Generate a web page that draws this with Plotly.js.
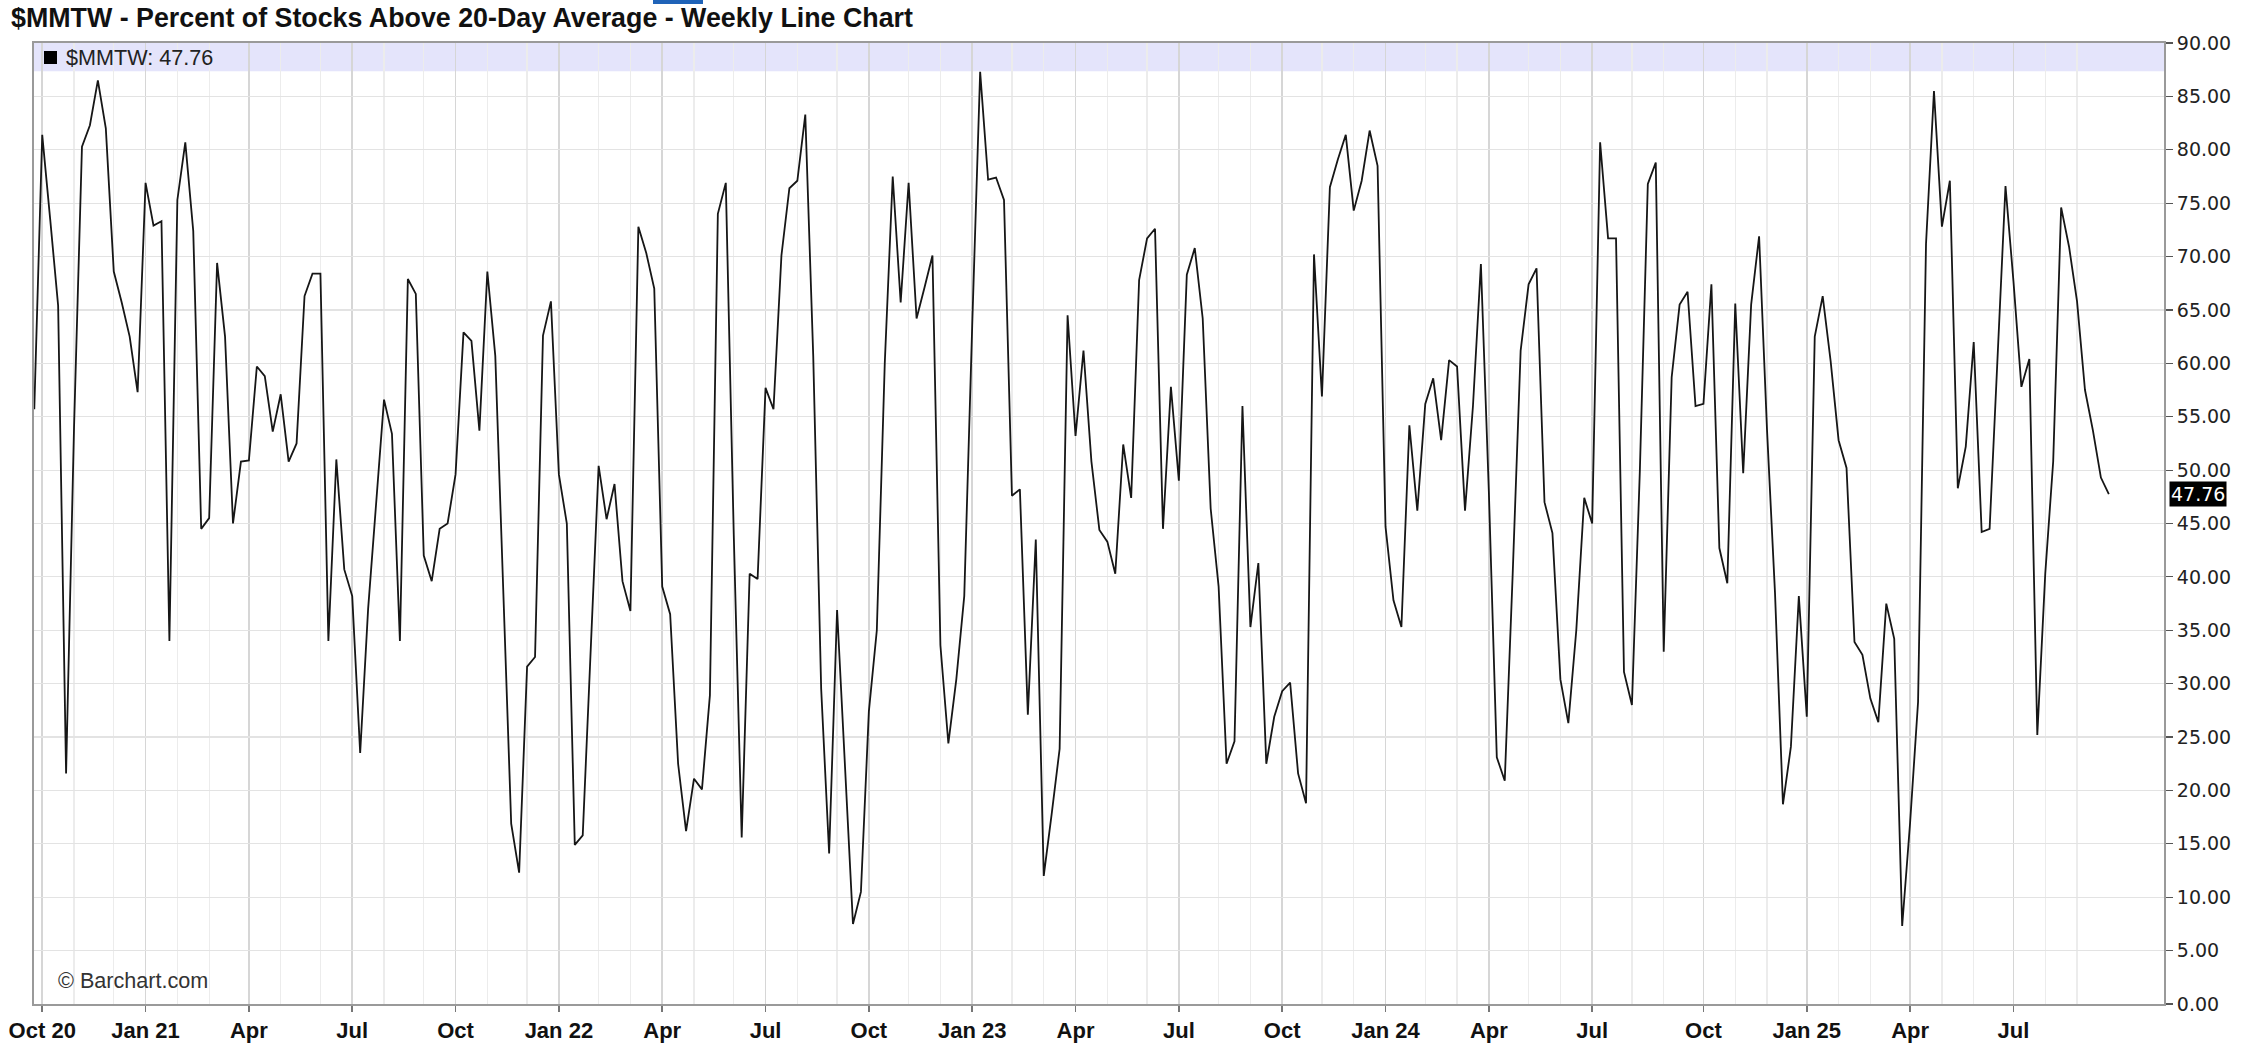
<!DOCTYPE html>
<html>
<head>
<meta charset="utf-8">
<script src="https://cdn.plot.ly/plotly-3.0.1.min.js"></script>
<style>
  html, body { margin: 0; padding: 0; background: #ffffff; }
  #chart { width: 2249px; height: 1045px; }
</style>
</head>
<body>
<div id="chart"></div>
<script>
// ---- Data (weekly bars, Monday-dated) ----
const seriesName = '$MMTW';
const firstWeek = '2020-09-28';
const pctAbove20 = [
  55.7, 81.4, 73.5, 65.4, 21.6, 54.0, 80.3, 82.3, 86.5, 82.0,
  68.6, 65.7, 62.5, 57.3, 76.9, 72.9, 73.3, 34.0, 75.3, 80.7,
  72.4, 44.5, 45.5, 69.4, 62.5, 45.0, 50.8, 50.9, 59.7, 58.8,
  53.6, 57.1, 50.8, 52.5, 66.3, 68.4, 68.4, 34.0, 51.0, 40.7,
  38.2, 23.5, 37.0, 47.0, 56.6, 53.4, 34.0, 67.9, 66.5, 42.0,
  39.6, 44.5, 45.0, 49.6, 62.9, 62.1, 53.7, 68.6, 60.7, 38.8,
  16.9, 12.3, 31.6, 32.5, 62.6, 65.8, 49.6, 45.0, 14.9, 15.8,
  33.0, 50.4, 45.4, 48.7, 39.6, 36.8, 72.8, 70.3, 67.0, 39.1,
  36.5, 22.5, 16.2, 21.1, 20.1, 28.9, 74.0, 76.9, 44.0, 15.6,
  40.3, 39.8, 57.7, 55.7, 70.1, 76.4, 77.1, 83.3, 60.7, 29.5,
  14.1, 36.9, 22.2, 7.5, 10.5, 27.4, 35.0, 60.0, 77.5, 65.7,
  76.9, 64.2, 67.1, 70.1, 33.6, 24.4, 30.4, 38.2, 63.5, 87.3,
  77.2, 77.4, 75.3, 47.6, 48.2, 27.1, 43.5, 12.0, 17.8, 23.9,
  64.5, 53.2, 61.2, 50.8, 44.4, 43.3, 40.3, 52.4, 47.4, 67.8,
  71.7, 72.6, 44.5, 57.8, 49.0, 68.3, 70.8, 64.2, 46.4, 39.1,
  22.5, 24.6, 56.0, 35.3, 41.3, 22.5, 26.9, 29.3, 30.1, 21.6,
  18.8, 70.2, 56.9, 76.5, 79.1, 81.4, 74.3, 77.1, 81.8, 78.5,
  44.7, 37.8, 35.3, 54.2, 46.2, 56.2, 58.6, 52.8, 60.3, 59.7,
  46.2, 56.0, 69.3, 48.0, 23.1, 20.9, 40.3, 61.2, 67.4, 68.9,
  47.0, 44.1, 30.4, 26.3, 35.0, 47.4, 45.0, 80.7, 71.7, 71.7,
  31.1, 28.0, 50.0, 76.8, 78.8, 33.0, 58.7, 65.5, 66.7, 56.0,
  56.2, 67.4, 42.7, 39.4, 65.6, 49.7, 65.5, 71.9, 53.7, 38.5,
  18.7, 24.1, 38.2, 26.9, 62.5, 66.3, 60.2, 52.8, 50.2, 33.9,
  32.7, 28.6, 26.4, 37.5, 34.2, 7.3, 17.0, 28.3, 71.2, 85.5,
  72.8, 77.1, 48.3, 52.2, 62.0, 44.2, 44.5, 60.1, 76.6, 67.7,
  57.8, 60.4, 25.2, 40.3, 50.8, 74.6, 70.9, 65.8, 57.5, 53.7,
  49.3, 47.76
];
const lastValue = 47.76;

const tickDates = [
  '2020-10-05', '2021-01-04', '2021-04-05', '2021-07-05', '2021-10-04',
  '2022-01-03', '2022-04-04', '2022-07-04', '2022-10-03', '2023-01-02',
  '2023-04-03', '2023-07-03', '2023-10-02', '2024-01-01', '2024-04-01',
  '2024-07-01', '2024-10-07', '2025-01-06', '2025-04-07', '2025-07-07'
];
const tickLabels = [
  'Oct 20', 'Jan 21', 'Apr', 'Jul', 'Oct',
  'Jan 22', 'Apr', 'Jul', 'Oct', 'Jan 23',
  'Apr', 'Jul', 'Oct', 'Jan 24', 'Apr',
  'Jul', 'Oct', 'Jan 25', 'Apr', 'Jul'
];
const yTicks = [0, 5, 10, 15, 20, 25, 30, 35, 40, 45, 50, 55, 60, 65, 70, 75, 80, 85, 90];

// ---- Weekly x dates ----
function addDays(s, n) {
  const d = new Date(s + 'T00:00:00Z');
  d.setUTCDate(d.getUTCDate() + n);
  return d.toISOString().slice(0, 10);
}
const weeks = pctAbove20.map((_, i) => addDays(firstWeek, 7 * i));
// first weekly bar of each month -> light month gridlines
const monthGrid = [];
weeks.forEach((d, i) => { if (i > 0 && d.slice(0, 7) !== weeks[i - 1].slice(0, 7)) monthGrid.push(d); });

// ---- Geometry ----
const W = 2249, H = 1045;
const M = { l: 34, r: 85, t: 43, b: 41 };
const PW = W - M.l - M.r, PH = H - M.t - M.b;
const px = x => (x - M.l) / PW;
const py = y => (H - M.b - y) / PH;

const FONT = 'Liberation Sans, Arial, sans-serif';

const trace = {
  type: 'scatter',
  mode: 'lines',
  x: weeks,
  y: pctAbove20,
  line: { color: '#161616', width: 1.8 },
  hoverinfo: 'x+y',
  showlegend: false
};

const layout = {
  width: W,
  height: H,
  margin: M,
  paper_bgcolor: '#ffffff',
  plot_bgcolor: '#ffffff',
  showlegend: false,
  title: {
    text: '$MMTW - Percent of Stocks Above 20-Day Average - Weekly Line Chart',
    xref: 'container', yref: 'container',
    x: 11 / W, xanchor: 'left',
    y: 1 - 18 / H, yanchor: 'middle',
    font: { family: FONT, size: 26.8, color: '#111111', weight: 'bold' }
  },
  xaxis: {
    type: 'date',
    range: ['2020-09-27 18:00', '2025-11-16 14:00'],
    tickmode: 'array',
    tickvals: tickDates,
    ticktext: tickLabels,
    ticks: 'outside',
    ticklen: 6,
    tickwidth: 1.5,
    tickcolor: '#777777',
    tickfont: { family: FONT, size: 22, color: '#111111', weight: 'bold' },
    showgrid: true,
    gridcolor: '#d6d6d6',
    gridwidth: 1.6,
    minor: { tickmode: 'array', tickvals: monthGrid, showgrid: true, gridcolor: '#ececec', gridwidth: 1.2, ticks: '' },
    showline: true,
    linecolor: '#9a9a9a',
    linewidth: 2,
    mirror: true,
    zeroline: false,
    fixedrange: true
  },
  yaxis: {
    side: 'right',
    range: [0, 90],
    tickmode: 'array',
    tickvals: yTicks,
    tickformat: '.2f',
    ticks: 'outside',
    ticklen: 7,
    tickwidth: 1.2,
    tickcolor: '#555555',
    tickfont: { family: 'DejaVu Sans, sans-serif', size: 19, color: '#222222' },
    showgrid: true,
    gridcolor: '#e3e3e3',
    gridwidth: 1.2,
    showline: true,
    linecolor: '#9a9a9a',
    linewidth: 2,
    mirror: true,
    zeroline: false,
    fixedrange: true
  },
  shapes: [
    // lavender header band at top of plot
    { type: 'rect', xref: 'paper', yref: 'y', x0: 0, x1: 1, y0: 87.35, y1: 90,
      fillcolor: '#e4e4fb', line: { width: 0 }, layer: 'below' },
    // legend square
    { type: 'rect', xref: 'paper', yref: 'paper', x0: px(44), x1: px(57), y0: py(64), y1: py(51),
      fillcolor: '#000000', line: { width: 0 } },
    // small blue tab fragment at the very top of the image
    { type: 'rect', xref: 'paper', yref: 'paper', x0: px(653), x1: px(703), y0: py(4), y1: py(0),
      fillcolor: '#1f63b8', line: { width: 0 } }
  ],
  annotations: [
    { xref: 'paper', yref: 'paper', x: px(64), y: py(57.5), xanchor: 'left', yanchor: 'middle',
      text: seriesName + ': ' + lastValue.toFixed(2), showarrow: false,
      font: { family: FONT, size: 21.6, color: '#222222' } },
    { xref: 'paper', yref: 'paper', x: px(56), y: py(980), xanchor: 'left', yanchor: 'middle',
      text: '© Barchart.com', showarrow: false,
      font: { family: FONT, size: 21.6, color: '#333333' } },
    { xref: 'paper', yref: 'y', x: 1, y: lastValue, xanchor: 'left', yanchor: 'middle', xshift: 5,
      text: lastValue.toFixed(2), showarrow: false, bgcolor: '#000000', borderpad: 1,
      font: { family: 'DejaVu Sans, sans-serif', size: 19, color: '#ffffff' } }
  ]
};

Plotly.newPlot('chart', [trace], layout, { displayModeBar: false, staticPlot: true });
</script>
</body>
</html>
